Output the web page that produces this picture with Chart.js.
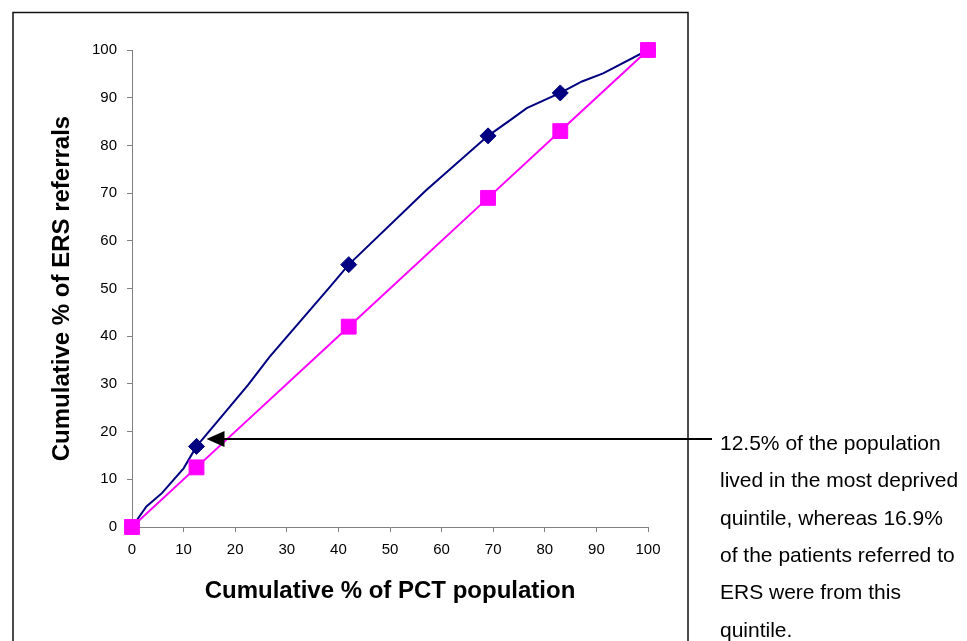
<!DOCTYPE html>
<html>
<head>
<meta charset="utf-8">
<script src="https://cdn.jsdelivr.net/npm/chart.js@4.4.1/dist/chart.umd.min.js"></script>
<style>
  html, body { margin: 0; padding: 0; background: #ffffff; }
  #wrap { position: relative; width: 967px; height: 641px; }
  canvas { display: block; }
</style>
</head>
<body>
<div id="wrap"><canvas id="chart" width="967" height="641"></canvas></div>
<script>
// Cumulative % of PCT population at each deprivation quintile boundary
const quintilePopulation = [0, 12.5, 42, 69, 83, 100];
// Cumulative % of ERS referrals at the same boundaries
const quintileReferrals = [0, 16.9, 55, 82, 91, 100];
// Line of equality (population share against itself)
const equalityShare = [0, 12.5, 42, 69, 83, 100];

// Finer trace of the referral curve between the quintile points
const referralTraceX = [0, 2.8, 5.8, 10, 12.5, 18.4, 22.5, 26.7, 38.4, 42, 57, 69, 73.3, 76.5, 83, 87.2, 91.3, 100];
const referralTraceY = [0, 4.3, 7.1, 12.3, 16.9, 24.5, 29.8, 35.7, 50.4, 55, 70.6, 82, 85.3, 87.8, 91, 93.4, 95.1, 100];

const axisTicks = [0, 10, 20, 30, 40, 50, 60, 70, 80, 90, 100];

const noteLines = [
  '12.5% of the population',
  'lived in the most deprived',
  'quintile, whereas 16.9%',
  'of the patients referred to',
  'ERS were from this',
  'quintile.'
];

const NAVY = '#000080';
const MAGENTA = '#ff00ff';
const AXIS_GREY = '#808080';
const FONT = '"Liberation Sans", Arial, Helvetica, sans-serif';

const pairs = (xs, ys) => xs.map((x, i) => ({ x: x, y: ys[i] }));

// Outer frame, explanatory note and arrow to the most deprived quintile point
const notePlugin = {
  id: 'notePlugin',
  beforeDraw(chart) {
    const ctx = chart.ctx;
    ctx.save();
    ctx.fillStyle = '#ffffff';
    ctx.fillRect(0, 0, chart.width, chart.height);
    ctx.strokeStyle = '#111111';
    ctx.lineWidth = 1.5;
    ctx.strokeRect(13, 12.5, 675, chart.height + 20);
    ctx.restore();
  },
  afterDraw(chart) {
    const ctx = chart.ctx;
    const xs = chart.scales.x, ys = chart.scales.y;
    const tipX = xs.getPixelForValue(quintilePopulation[1]) + 10;
    const yLine = Math.round(ys.getPixelForValue(quintileReferrals[1])) - 7;
    const endX = 712;
    ctx.save();
    ctx.strokeStyle = '#000000';
    ctx.fillStyle = '#000000';
    ctx.lineWidth = 2;
    ctx.beginPath();
    ctx.moveTo(endX, yLine);
    ctx.lineTo(tipX + 14, yLine);
    ctx.stroke();
    ctx.beginPath();
    ctx.moveTo(tipX, yLine);
    ctx.lineTo(tipX + 18, yLine - 8);
    ctx.lineTo(tipX + 18, yLine + 8);
    ctx.closePath();
    ctx.fill();

    ctx.font = '21px ' + FONT;
    ctx.textAlign = 'left';
    ctx.textBaseline = 'middle';
    noteLines.forEach((t, i) => ctx.fillText(t, 720, 444 + i * 37.4));
    ctx.restore();
  }
};

const tickFont = { family: FONT, size: 15 };
const titleFont = { family: FONT, size: 24, weight: 'bold', lineHeight: 1 };

new Chart(document.getElementById('chart'), {
  type: 'scatter',
  data: {
    datasets: [
      {
        label: 'Population',
        data: pairs(quintilePopulation, equalityShare),
        showLine: true,
        clip: false,
        borderColor: MAGENTA,
        backgroundColor: MAGENTA,
        borderWidth: 2,
        pointStyle: 'rect',
        pointRadius: 10.5,
        pointBorderWidth: 1,
        pointBackgroundColor: MAGENTA,
        pointBorderColor: MAGENTA,
        tension: 0
      },
      {
        label: 'ERS referrals (quintiles)',
        data: pairs(quintilePopulation, quintileReferrals),
        showLine: false,
        clip: false,
        pointStyle: 'rectRot',
        pointRadius: 8,
        pointBorderWidth: 1,
        pointBackgroundColor: NAVY,
        pointBorderColor: NAVY
      },
      {
        label: 'ERS referrals',
        data: pairs(referralTraceX, referralTraceY),
        showLine: true,
        clip: false,
        borderColor: NAVY,
        borderWidth: 2,
        pointRadius: 0,
        tension: 0
      }
    ]
  },
  options: {
    responsive: false,
    animation: false,
    events: [],
    layout: { padding: { left: 0, top: 50, right: 319, bottom: 0 } },
    plugins: {
      legend: { display: false },
      tooltip: { enabled: false }
    },
    scales: {
      x: {
        type: 'linear',
        min: 0,
        max: 100,
        afterFit(scale) { scale.height = 114; },
        afterBuildTicks(scale) { scale.ticks = axisTicks.map(v => ({ value: v })); },
        ticks: { font: tickFont, color: '#000000', padding: 9, maxRotation: 0, autoSkip: false },
        grid: { drawOnChartArea: false, drawTicks: true, tickLength: 5, color: AXIS_GREY },
        border: { display: true, color: AXIS_GREY, width: 1 },
        title: {
          display: true,
          text: 'Cumulative % of PCT population',
          font: titleFont,
          color: '#000000',
          padding: { top: 0, bottom: 38 }
        }
      },
      y: {
        type: 'linear',
        min: 0,
        max: 100,
        afterFit(scale) { scale.width = 132; },
        afterBuildTicks(scale) { scale.ticks = axisTicks.map(v => ({ value: v })); },
        ticks: { font: tickFont, color: '#000000', padding: 10, autoSkip: false },
        grid: { drawOnChartArea: false, drawTicks: true, tickLength: 5, color: AXIS_GREY },
        border: { display: true, color: AXIS_GREY, width: 1 },
        title: {
          display: true,
          text: 'Cumulative % of ERS referrals',
          font: titleFont,
          color: '#000000',
          padding: { top: 50, bottom: 0 }
        }
      }
    }
  },
  plugins: [notePlugin]
});
</script>
</body>
</html>
